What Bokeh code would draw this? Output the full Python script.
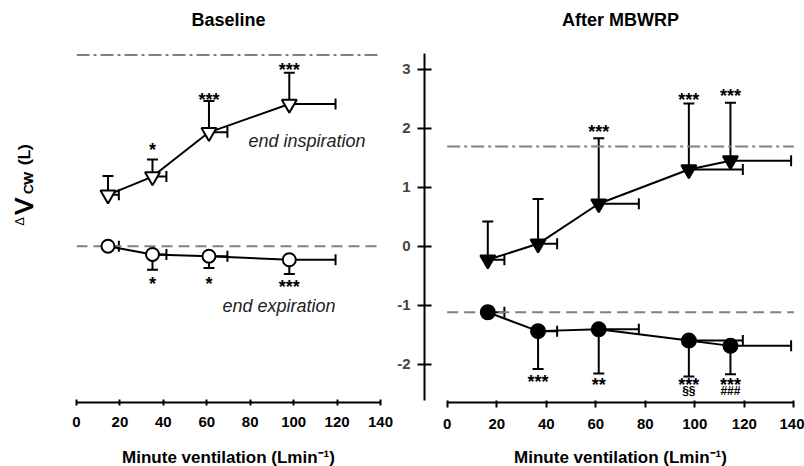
import numpy as np
from bokeh.plotting import figure
from bokeh.layouts import row, column
from bokeh.models import FixedTicker, Whisker, TeeHead, ColumnDataSource, Label, Range1d
from bokeh.embed import file_html
from bokeh.resources import INLINE
from bokeh.core.properties import value

FONT = "Liberation Sans"

# ---------------- data ----------------
x_ticks = [0, 20, 40, 60, 80, 100, 120, 140]
y_ticks = [-2, -1, 0, 1, 2, 3]

# Baseline panel
base_ve = [14.5, 35, 61, 98]
base_ve_err = [5.0, 6.4, 8.5, 21.3]
base_insp = [0.87, 1.18, 1.93, 2.41]
base_insp_err = [0.32, 0.29, 0.53, 0.53]
base_exp = [0.0, -0.14, -0.17, -0.23]
base_exp_err = [0.0, 0.26, 0.20, 0.24]
base_ref_insp = 3.24
base_ref_exp = 0.0

# After MBWRP panel
mb_ve = [16.4, 36.7, 61.2, 97.6, 114.4]
mb_ve_err = [6.7, 7.7, 16.2, 21.8, 24.5]
mb_insp = [-0.23, 0.04, 0.72, 1.30, 1.45]
mb_insp_err = [0.65, 0.76, 1.11, 1.12, 0.98]
mb_exp = [-1.12, -1.44, -1.41, -1.60, -1.69]
mb_exp_err = [0.0, 0.64, 0.75, 0.61, 0.48]
mb_ref_insp = 1.69
mb_ref_exp = -1.12

# significance annotations
base_insp_sig_x = [35, 61, 98]
base_insp_sig_y = [1.69, 2.55, 3.05]
base_insp_sig = ["*", "***", "***"]
base_exp_sig_x = [35, 61, 98]
base_exp_sig_y = [-0.58, -0.58, -0.63]
base_exp_sig = ["*", "*", "***"]
mb_insp_sig_x = [61.2, 97.6, 114.4]
mb_insp_sig_y = [2.01, 2.55, 2.62]
mb_insp_sig = ["***", "***", "***"]
mb_exp_sig_x = [36.7, 61.2, 97.6, 114.4]
mb_exp_sig_y = [-2.23, -2.28, -2.29, -2.28]
mb_exp_sig = ["***", "**", "***", "***"]
mb_exp_sig2_x = [97.6, 114.4]
mb_exp_sig2_y = [-2.45, -2.45]
mb_exp_sig2 = ["§§", "###"]

X_LABEL = "Minute ventilation (Lmin\u207b\u00b9)"
X_LO, X_HI = 0, 140
Y_RANGE = (-2.65, 4.165)
GRAY = "#808080"
PANEL_H = 446
W0 = 40          # strip holding the rotated y title
W1 = 393         # left edge of the right panel


def style_xaxis(p, tin, tout):
    ax = p.xaxis[0]
    ax.ticker = FixedTicker(ticks=x_ticks)
    ax.bounds = (X_LO, X_HI)
    ax.axis_line_width = 2
    ax.axis_line_color = "black"
    ax.major_tick_line_width = 2
    ax.major_tick_in = tin
    ax.major_tick_out = tout
    ax.minor_tick_line_color = None
    ax.major_label_text_font = FONT
    ax.major_label_text_font_style = "bold"
    ax.major_label_text_font_size = "15px"
    ax.major_label_text_color = "black"
    ax.major_label_standoff = 11


def add_series(p, ve, ve_err, y, y_err, up, marker, fill, size):
    n = len(ve)
    keep = [i for i in range(n) if y_err[i] > 0]
    vs = ColumnDataSource(dict(
        base=[ve[i] for i in keep],
        lower=[(y[i] if up else y[i] - y_err[i]) for i in keep],
        upper=[(y[i] + y_err[i] if up else y[i]) for i in keep],
    ))
    head = TeeHead(size=11, line_width=2, line_color="black")
    vw = Whisker(source=vs, base="base", lower="lower", upper="upper", dimension="height",
                 line_width=2, line_color="black", level="underlay",
                 upper_head=head if up else None, lower_head=None if up else head)
    p.add_layout(vw)
    hs = ColumnDataSource(dict(base=y, lower=ve, upper=[a + b for a, b in zip(ve, ve_err)]))
    hw = Whisker(source=hs, base="base", lower="lower", upper="upper", dimension="width",
                 line_width=2, line_color="black", level="underlay",
                 upper_head=TeeHead(size=11, line_width=2, line_color="black"), lower_head=None)
    p.add_layout(hw)
    p.line(ve, y, line_color="black", line_width=2)
    p.scatter(ve, y, marker=marker, size=size, fill_color=fill, line_color="black", line_width=2)


def add_sig(p, xs, ys, txt, size="18px", yoff=4):
    p.text(x=xs, y=ys, text=txt, text_font=value(FONT), text_font_style="bold",
           text_font_size=size, text_align="center", text_baseline="middle",
           text_color="black", y_offset=yoff)


def label(p, x, y, text, size, style="bold", align="center", color="black"):
    p.add_layout(Label(x=x, y=y, text=text, text_font=FONT, text_font_size=size,
                       text_font_style=style, text_align=align, text_baseline="middle",
                       text_color=color))


def base_fig(width, x_range, border_left, border_right, y_loc):
    p = figure(width=width, height=PANEL_H, x_range=x_range, y_range=Range1d(*Y_RANGE),
               toolbar_location=None, output_backend="svg", y_axis_location=y_loc,
               min_border_left=border_left, min_border_right=border_right,
               min_border_top=0, min_border_bottom=PANEL_H - 402)
    p.grid.visible = False
    p.outline_line_color = None
    p.background_fill_color = "white"
    p.border_fill_color = "white"
    return p


# ---------------- y title strip (only rotated text) ----------------
p0 = figure(width=W0, height=PANEL_H, x_range=Range1d(0, W0), y_range=Range1d(0, PANEL_H),
            toolbar_location=None, output_backend="svg", x_axis_location=None,
            y_axis_location=None, min_border=0)
p0.grid.visible = False
p0.outline_line_color = None


def vtext(x, y, text, size, heavy=True):
    offs = [0.0, -0.9] if heavy else [0.0]
    for off in offs:
        p0.text(x=[x], y=[y], text=[text], angle=np.pi / 2, text_font_size=size,
                text_align="left", text_baseline="bottom", text_color="black", y_offset=off)


vtext(26.7, PANEL_H - 250, "\u0394", "13px", heavy=False)
vtext(37.3, PANEL_H - 238, "V", "25px")
vtext(35.7, PANEL_H - 215, "CW", "13px")
vtext(33.6, PANEL_H - 183, "(L)", "17px")

# ---------------- left panel ----------------
p1 = base_fig(W1 - W0, Range1d(0, (W1 - 76) / 2.1714), 76 - W0, 0, None)
style_xaxis(p1, 3, 3)
p1.line([X_LO, X_HI], [base_ref_insp, base_ref_insp], line_color=GRAY, line_width=2, line_dash="13 4 3 4")
p1.line([X_LO, X_HI], [base_ref_exp, base_ref_exp], line_color=GRAY, line_width=2, line_dash="11 6")
add_series(p1, base_ve, base_ve_err, base_insp, base_insp_err, True, "inverted_triangle", "white", 15)
add_series(p1, base_ve, base_ve_err, base_exp, base_exp_err, False, "circle", "white", 13)
add_sig(p1, base_insp_sig_x, base_insp_sig_y, base_insp_sig)
add_sig(p1, base_exp_sig_x, base_exp_sig_y, base_exp_sig)
label(p1, 79.2, 1.79, "end inspiration", "18px", style="italic", align="left", color="#222222")
label(p1, 67.2, -1.01, "end expiration", "18px", style="italic", align="left", color="#222222")
label(p1, 70, 3.83, "Baseline", "18px")

# ---------------- right panel ----------------
B2 = 424 - W1
W2 = 804 - W1
x_lo2 = (424 - 446.7) / 2.476
x_hi2 = (800 - 446.7) / 2.476
p2 = base_fig(W2, Range1d(x_lo2, x_hi2), B2, 4, "left")
style_xaxis(p2, 2, 5)
ya = p2.yaxis[0]
ya.ticker = FixedTicker(ticks=y_ticks)
ya.bounds = (-2.62, 3.27)
ya.axis_line_width = 2
ya.axis_line_color = "black"
ya.major_tick_line_width = 2
ya.major_tick_in = 7
ya.major_tick_out = 7
ya.minor_tick_line_color = None
ya.major_label_text_font = FONT
ya.major_label_text_font_style = "bold"
ya.major_label_text_font_size = "15px"
ya.major_label_standoff = 7
ya.major_label_overrides = {-2: "-2", -1: "-1"}

p2.line([X_LO, X_HI], [mb_ref_insp, mb_ref_insp], line_color=GRAY, line_width=2, line_dash="13 4 3 4")
p2.line([X_LO, X_HI], [mb_ref_exp, mb_ref_exp], line_color=GRAY, line_width=2, line_dash="11 6")
add_series(p2, mb_ve, mb_ve_err, mb_insp, mb_insp_err, True, "inverted_triangle", "black", 15)
add_series(p2, mb_ve, mb_ve_err, mb_exp, mb_exp_err, False, "circle", "black", 14)
add_sig(p2, mb_insp_sig_x, mb_insp_sig_y, mb_insp_sig)
add_sig(p2, mb_exp_sig_x, mb_exp_sig_y, mb_exp_sig)
add_sig(p2, mb_exp_sig2_x, mb_exp_sig2_y, mb_exp_sig2, size="12px", yoff=0)
label(p2, 70, 3.83, "After MBWRP", "18px")

# ---------------- strip with the x-axis titles ----------------
p3 = figure(width=804, height=466 - PANEL_H, x_range=Range1d(0, 804), y_range=Range1d(0, 466 - PANEL_H),
            toolbar_location=None, output_backend="svg", x_axis_location=None, y_axis_location=None,
            min_border=0)
p3.grid.visible = False
p3.outline_line_color = None
p3.text(x=[228, 620], y=[9, 9], text=[X_LABEL, X_LABEL], text_font=value(FONT),
        text_font_style="bold", text_font_size="17px", text_align="center",
        text_baseline="middle", text_color="black")

layout = column(row(p0, p1, p2), p3)
open("out.html", "w").write(file_html(layout, INLINE))
